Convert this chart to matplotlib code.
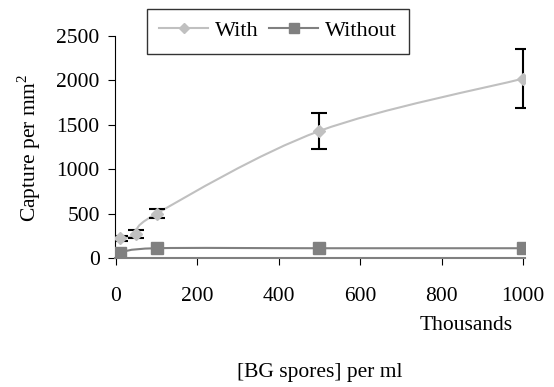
import numpy as np
import matplotlib as mpl
import matplotlib.pyplot as plt
from matplotlib.path import Path
from matplotlib.patches import PathPatch
from matplotlib.lines import Line2D

mpl.rcParams.update({
    'font.family': ['Liberation Serif', 'DejaVu Serif'],
    'font.size': 15.5,
    'mathtext.fontset': 'custom',
    'mathtext.rm': 'Liberation Serif',
    'xtick.direction': 'out',
    'ytick.direction': 'out',
})

# data (BG spores in thousands per ml)
x_with = [10, 50, 100, 500, 1000]
y_with = [220, 270, 500, 1430, 2020]
err_with = [30, 40, 50, 200, 335]

x_without = [10, 100, 500, 1000]
y_without = [60, 110, 110, 110]
err_without = [15, 15, 10, 15]

c_with = '#c0c0c0'
c_without = '#808080'


def smooth_path(xs, ys):
    # Excel-style smoothed line as cubic bezier segments
    p = np.column_stack([xs, ys]).astype(float)
    n = len(p)
    verts = [p[0]]
    codes = [Path.MOVETO]
    for i in range(n - 1):
        p_prev = p[i - 1] if i > 0 else p[i]
        p_next2 = p[i + 2] if i + 2 < n else p[i + 1]
        c1 = p[i] + (p[i + 1] - p_prev) / 6.0
        c2 = p[i + 1] - (p_next2 - p[i]) / 6.0
        verts += [c1, c2, p[i + 1]]
        codes += [Path.CURVE4] * 3
    return Path(verts, codes)


fig = plt.figure(figsize=(5.54, 3.87), dpi=100)
ax = fig.add_axes([115 / 554, 1 - 258 / 387, 410 / 554, 222 / 387])

ax.add_patch(PathPatch(smooth_path(x_with, y_with), fill=False,
                       edgecolor=c_with, lw=1.5, zorder=2))
ax.add_patch(PathPatch(smooth_path(x_without, y_without), fill=False,
                       edgecolor=c_without, lw=1.5, zorder=2))

ax.errorbar(x_with, y_with, yerr=err_with, fmt='D', color=c_with, ms=6,
            ecolor='black', elinewidth=1.5, capsize=6, capthick=1.5, zorder=3)
ax.errorbar(x_without, y_without, yerr=err_without, fmt='s', color=c_without, ms=8,
            ecolor='black', elinewidth=1.5, capsize=3, capthick=1.5, zorder=3)

ax.set_xlim(-2, 1005)
ax.set_ylim(0, 2500)
ax.set_xticks(range(0, 1001, 200))
ax.set_yticks(range(0, 2501, 500))
ax.spines['top'].set_visible(False)
ax.spines['right'].set_visible(False)
ax.spines['bottom'].set_color('#808080')
ax.spines['bottom'].set_linewidth(1.5)
ax.tick_params(axis='x', length=5, pad=16)
ax.tick_params(axis='y', length=5, pad=6)

fig.text(29 / 554, 1 - 148 / 387, 'Capture per mm$^2$', rotation=90,
         ha='center', va='center')
fig.text(466 / 554, 1 - 326 / 387, 'Thousands', ha='center', va='center')
fig.text(320 / 554, 1 - 372 / 387, '[BG spores] per ml', ha='center', va='center')

handles = [Line2D([], [], color=c_with, marker='D', ms=5, lw=1.5),
           Line2D([], [], color=c_without, marker='s', ms=7, lw=1.5)]
leg = fig.legend(handles, ['With', 'Without'], loc='center',
                 bbox_to_anchor=(278 / 554, 1 - 31 / 387), ncol=2,
                 fancybox=False, edgecolor='black', handlelength=2.2,
                 handletextpad=0.3, columnspacing=0.5, borderpad=0.55,
                 fontsize=16)
leg.get_frame().set_linewidth(1.0)

fig.savefig('out.png', dpi=100)
